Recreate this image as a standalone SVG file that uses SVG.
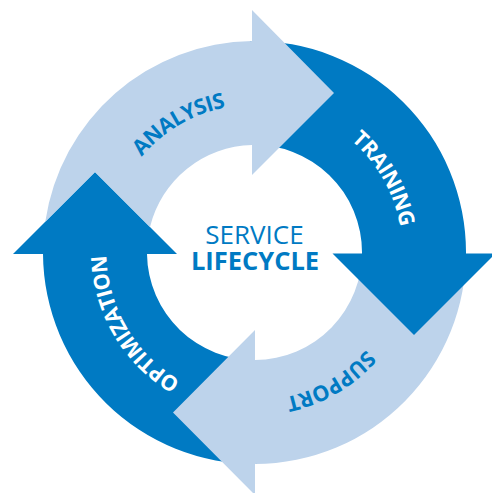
<svg xmlns="http://www.w3.org/2000/svg" width="492" height="493" viewBox="0 0 492 493">
<style>
.d{fill:#007AC3}.l{fill:#BDD3EB}
.t{font-family:"Open Sans","Noto Sans","Liberation Sans",sans-serif;font-weight:700;font-size:21.5px;letter-spacing:-0.6px;text-anchor:middle}
.w{fill:#fff}.b{fill:#007AC3}
.c{font-family:"Open Sans","Noto Sans",sans-serif;text-anchor:middle;fill:#007AC3}
</style>
<rect width="492" height="493" fill="#fff"/>
<g id="optimization">
<path class="d" d="M257 464 A211.5 211.5 0 0 1 43 254 H13 L95 172 L177 254 H147 A107.5 107.5 0 0 0 257 360 Z"/>
</g>
<g id="support">
<path class="l" d="M466 250 A211.5 211.5 0 0 1 255 464 V495 L173 412.5 L255 330 V360 A107.5 107.5 0 0 0 362 250 Z"/>
</g>
<g id="training">
<path class="d" d="M250 41 A211.5 211.5 0 0 1 466 253.5 H495.5 L414 335 L332.5 253.5 H362 A107.5 107.5 0 0 0 250 145 Z"/>
</g>
<g id="analysis">
<path class="l" d="M95 172 L45.25 221.75 A211.5 211.5 0 0 1 252 41 V10 L334 93 L252 175 V145 A107.5 107.5 0 0 0 150 227 Z"/>
</g>
<g id="labels">
<path id="a1" fill="none" d="M106.5 252.5 A148 148 0 0 1 254.5 104.5"/>
<path id="a2" fill="none" d="M254.5 104.5 A148 148 0 0 1 402.5 252.5"/>
<path id="a3" fill="none" d="M402.5 252.5 A148 148 0 0 1 254.5 400.5"/>
<path id="a4" fill="none" d="M254.5 400.5 A148 148 0 0 1 106.5 252.5"/>
<text class="t b"><textPath href="#a1" startOffset="66%">ANALYSIS</textPath></text>
<text class="t w"><textPath href="#a2" startOffset="67%">TRAINING</textPath></text>
<text class="t b"><textPath href="#a3" startOffset="66%">SUPPORT</textPath></text>
<text class="t w"><textPath href="#a4" startOffset="66%">OPTIMIZATION</textPath></text>
</g>
<g id="center">
<text class="c" x="254.5" y="244" font-size="26">SERVICE</text>
<text class="c" x="255" y="270" font-size="25.5" font-weight="700">LIFECYCLE</text>
</g>
</svg>
